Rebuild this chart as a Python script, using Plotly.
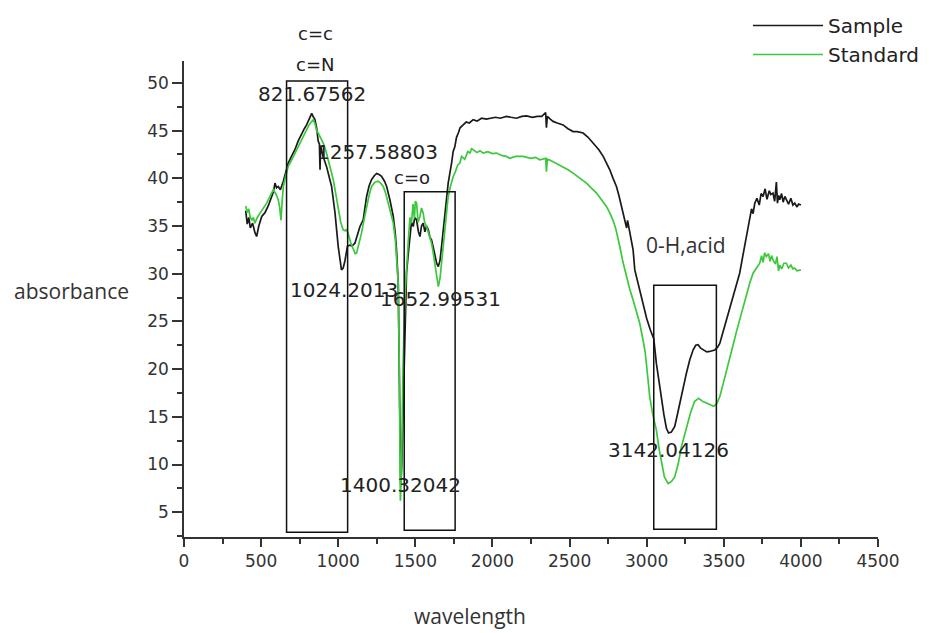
import plotly.graph_objects as go

# ---- data ----
sample_x = [400, 410, 420, 430, 445, 460, 471, 485, 504, 525, 546, 565, 580, 590, 600, 611, 625, 644, 660, 676,
            700, 719, 740, 763, 780, 795, 815, 828, 840, 849, 860, 870, 878, 882, 886, 900, 924, 957, 979, 1000,
            1021, 1032, 1043, 1060, 1076, 1090, 1108, 1125, 1141, 1162, 1184, 1200, 1216, 1235, 1249, 1265, 1281,
            1300, 1314, 1335, 1357, 1370, 1378, 1389, 1398, 1405, 1412, 1425, 1435, 1443, 1455, 1465, 1475, 1486,
            1497, 1508, 1520, 1530, 1540, 1551, 1562, 1573, 1584, 1595, 1605, 1620, 1638, 1649, 1660, 1670, 1680,
            1692, 1713, 1735, 1745, 1756, 1767, 1780, 1790, 1810, 1830, 1850, 1875, 1900, 1930, 1960, 1983, 2020,
            2050, 2091, 2120, 2156, 2190, 2221, 2260, 2290, 2320, 2345, 2350, 2356, 2375, 2393, 2420, 2458, 2490,
            2523, 2550, 2588, 2620, 2653, 2690, 2718, 2740, 2761, 2782, 2804, 2820, 2837, 2850, 2862, 2870, 2876,
            2890, 2905, 2912, 2923, 2944, 2960, 2977, 3000, 3024, 3046, 3063, 3080, 3096, 3112, 3128, 3142, 3160,
            3182, 3200, 3214, 3235, 3258, 3280, 3301, 3318, 3333, 3350, 3366, 3390, 3409, 3425, 3441, 3460, 3474,
            3490, 3506, 3530, 3560, 3580, 3603, 3625, 3647, 3658, 3668, 3680, 3690, 3701, 3715, 3730, 3742, 3755,
            3768, 3780, 3795, 3805, 3819, 3830, 3841, 3848, 3856, 3863, 3875, 3885, 3896, 3906, 3920, 3935, 3948,
            3960, 3975, 3985, 4000]
sample_y = [36.6, 35.2, 35.9, 34.8, 35.3, 34.3, 33.9, 35.0, 36.0, 36.4, 37.1, 38.0, 38.6, 39.5, 39.0, 39.15, 38.8,
            39.7, 40.8, 41.6, 42.4, 43.0, 43.9, 44.75, 45.2, 45.6, 46.3, 46.8, 46.4, 46.15, 45.3, 43.9, 43.6, 40.9,
            43.4, 42.4, 41.25, 39.15, 36.4, 32.85, 30.4, 30.6, 31.3, 32.9, 33.0, 32.9, 33.2, 34.0, 34.95, 35.65,
            38.1, 39.2, 39.85, 40.3, 40.5, 40.4, 40.2, 39.7, 39.15, 37.75, 36.0, 34.2, 32.5, 29.0, 18.0, 7.8, 10.0,
            20.0, 26.0, 30.1, 32.2, 33.9, 35.4, 34.95, 35.9, 35.65, 34.4, 33.9, 35.0, 35.3, 34.4, 35.0, 34.6, 33.8,
            33.55, 32.5, 31.1, 30.75, 31.4, 32.85, 34.5, 36.7, 39.5, 41.6, 42.8, 43.3, 44.3, 44.8, 45.3, 45.6, 45.9,
            45.8, 46.15, 46.0, 46.3, 46.2, 46.3, 46.4, 46.3, 46.5, 46.4, 46.3, 46.5, 46.55, 46.4, 46.5, 46.5, 46.9,
            45.3, 46.5, 46.2, 45.97, 45.8, 45.6, 45.2, 44.9, 44.9, 44.75, 44.3, 43.7, 43.0, 42.3, 41.6, 40.9, 40.0,
            39.15, 38.2, 37.05, 36.3, 35.65, 34.8, 35.6, 34.25, 33.0, 32.5, 30.4, 29.0, 27.8, 26.55, 25.3, 24.1,
            23.2, 20.6, 18.6, 17.1, 15.2, 13.8, 13.3, 13.4, 14.0, 15.3, 16.4, 18.1, 19.6, 21.0, 22.0, 22.5, 22.55,
            22.2, 22.0, 21.8, 21.85, 21.9, 22.0, 22.3, 22.7, 23.6, 24.5, 25.9, 27.6, 28.8, 30.05, 32.0, 33.9, 35.0,
            36.0, 36.8, 36.3, 37.4, 37.9, 37.2, 38.4, 38.1, 38.9, 37.8, 38.7, 38.3, 38.45, 37.6, 39.6, 37.4, 38.2,
            37.75, 38.4, 37.5, 38.1, 37.75, 37.3, 37.9, 37.2, 37.4, 37.0, 37.3, 37.2]

standard_x = [400, 410, 420, 428, 440, 450, 460, 475, 493, 515, 536, 560, 579, 595, 611, 620, 629, 636, 644, 660,
              676, 700, 719, 740, 763, 785, 806, 820, 839, 850, 860, 870, 885, 903, 920, 935, 950, 968, 985, 1000,
              1016, 1032, 1045, 1054, 1065, 1080, 1097, 1110, 1119, 1135, 1151, 1168, 1184, 1200, 1216, 1238, 1259,
              1275, 1292, 1308, 1324, 1340, 1357, 1370, 1378, 1390, 1396, 1403, 1410, 1420, 1432, 1443, 1455, 1465,
              1475, 1485, 1494, 1500, 1508, 1518, 1530, 1540, 1551, 1560, 1573, 1590, 1605, 1615, 1627, 1638, 1649,
              1660, 1670, 1682, 1692, 1703, 1713, 1730, 1746, 1760, 1775, 1789, 1800, 1820, 1840, 1854, 1865, 1875,
              1900, 1920, 1940, 1970, 2000, 2027, 2060, 2090, 2113, 2150, 2199, 2250, 2280, 2307, 2345, 2350, 2356,
              2375, 2393, 2420, 2458, 2490, 2523, 2560, 2590, 2610, 2640, 2675, 2700, 2720, 2739, 2760, 2782, 2800,
              2815, 2826, 2845, 2869, 2890, 2912, 2935, 2955, 2977, 2990, 3000, 3020, 3040, 3063, 3080, 3096, 3115,
              3139, 3160, 3182, 3205, 3225, 3255, 3284, 3310, 3337, 3365, 3392, 3415, 3435, 3455, 3474, 3495, 3517,
              3540, 3560, 3580, 3603, 3625, 3647, 3668, 3690, 3710, 3733, 3745, 3755, 3765, 3776, 3790, 3800, 3810,
              3819, 3835, 3845, 3855, 3863, 3875, 3890, 3906, 3920, 3935, 3948, 3960, 3975, 4000]
standard_y = [37.1, 36.4, 36.8, 36.0, 35.6, 35.9, 35.3, 35.9, 36.35, 36.9, 37.4, 38.2, 38.8, 38.4, 37.75, 37.0,
              35.6, 37.5, 39.15, 40.3, 41.25, 42.0, 42.65, 43.3, 44.05, 44.8, 45.45, 45.8, 46.15, 45.7, 45.0, 44.75,
              44.3, 43.7, 42.9, 41.95, 41.0, 39.85, 38.3, 36.7, 35.4, 34.6, 34.5, 34.6, 34.2, 33.3, 32.5, 32.1,
              32.15, 33.2, 34.25, 35.7, 37.05, 38.2, 39.15, 39.6, 39.7, 39.5, 39.15, 38.4, 37.4, 36.4, 35.3, 33.6,
              31.8, 28.8, 20.0, 6.2, 9.0, 20.0, 27.5, 31.1, 33.6, 35.9, 35.3, 37.3, 35.8, 37.6, 37.4, 35.4, 36.0,
              36.9, 36.35, 35.4, 34.95, 34.0, 33.2, 32.3, 31.1, 29.6, 28.65, 29.5, 31.1, 33.4, 35.3, 36.9, 38.1,
              39.3, 40.2, 40.7, 41.4, 41.6, 42.3, 42.0, 42.8, 42.65, 43.1, 43.0, 42.7, 42.9, 42.65, 42.8, 42.6,
              42.65, 42.4, 42.3, 42.1, 42.3, 42.3, 42.1, 42.2, 41.95, 42.1, 40.7, 42.0, 41.9, 41.75, 41.5, 41.25,
              40.9, 40.55, 40.1, 39.8, 39.5, 39.0, 38.45, 37.9, 37.5, 37.05, 36.4, 35.6, 34.7, 33.8, 32.85, 31.3,
              29.7, 28.4, 27.25, 26.0, 24.8, 23.0, 21.8, 20.3, 17.1, 15.2, 13.6, 11.7, 10.15, 8.7, 8.0, 8.2, 8.7,
              10.1, 11.85, 13.8, 15.4, 16.6, 16.95, 16.6, 16.4, 16.2, 16.1, 16.4, 17.1, 18.4, 19.9, 21.3, 22.5,
              23.8, 25.15, 26.6, 27.95, 29.0, 30.05, 30.6, 31.1, 31.9, 31.2, 32.2, 31.8, 32.1, 31.3, 31.9, 31.45,
              31.0, 31.8, 30.3, 30.9, 30.5, 31.1, 31.1, 30.6, 30.9, 30.5, 30.6, 30.3, 30.4]

# annotated regions (x0, x1, y0, y1) in data units
boxes_x0 = [665, 1428, 3046]
boxes_x1 = [1061, 1758, 3452]
boxes_y0 = [2.9, 3.1, 3.2]
boxes_y1 = [50.2, 38.6, 28.8]

peak_labels = ["821.67562", "1257.58803", "1024.2013", "1652.99531", "1400.32042", "3142.04126"]
peak_x = [828, 1254, 1037, 1666, 1406, 3140]
peak_y = [48.8, 42.8, 28.3, 27.3, 7.9, 11.5]

W, H = 929, 633
ML, MR, MT, MB = 184, 51, 61, 96
PW, PH = W - ML - MR, H - MT - MB


def px2paper(px, py):
    return (px - ML) / PW, (H - MB - py) / PH


BLACK = "#1a1a1a"
GREEN = "#3cc83c"
NUMFONT = dict(family="DejaVu Sans", size=20, color="#222")

fig = go.Figure()
fig.add_trace(go.Scatter(x=sample_x, y=sample_y, mode="lines", name="Sample",
                         line=dict(color=BLACK, width=1.7)))
fig.add_trace(go.Scatter(x=standard_x, y=standard_y, mode="lines", name="Standard",
                         line=dict(color=GREEN, width=1.7)))

for x0, x1, y0, y1 in zip(boxes_x0, boxes_x1, boxes_y0, boxes_y1):
    fig.add_shape(type="rect", xref="x", yref="y", x0=x0, x1=x1, y0=y0, y1=y1,
                  line=dict(color="#111", width=1.5), fillcolor="rgba(0,0,0,0)")

annotations = []
for t, x, y in zip(peak_labels, peak_x, peak_y):
    annotations.append(dict(text=t, x=x, y=y, xref="x", yref="y", showarrow=False,
                            font=NUMFONT, xanchor="center", yanchor="middle"))

small = dict(family="DejaVu Sans", size=18, color="#222")
for t, px, py in [("c=c", 315, 34), ("c=N", 315, 65), ("c=o", 412, 177)]:
    xp, yp = px2paper(px, py)
    annotations.append(dict(text=t, x=xp, y=yp, xref="paper", yref="paper", showarrow=False,
                            font=small, xanchor="center", yanchor="middle"))

opf = dict(family="Open Sans", size=21, color="#333")
for t, px, py in [("0-H,acid", 686, 245), ("absorbance", 71, 291), ("wavelength", 470, 616)]:
    xp, yp = px2paper(px, py)
    annotations.append(dict(text=t, x=xp, y=yp, xref="paper", yref="paper", showarrow=False,
                            font=opf, xanchor="center", yanchor="middle"))

axis_common = dict(showline=True, linecolor="#333", linewidth=1.5, ticks="outside",
                   tickwidth=1.5, tickcolor="#333", showgrid=False, zeroline=False,
                   tickfont=dict(family="DejaVu Sans", size=17, color="#333"))

fig.update_layout(
    width=W, height=H,
    margin=dict(l=ML, r=MR, t=MT, b=MB, pad=0, autoexpand=False),
    paper_bgcolor="white", plot_bgcolor="white",
    xaxis=dict(range=[0, 4500], tick0=0, dtick=500, ticklen=8,
               minor=dict(ticks="outside", dtick=250, ticklen=5, tickwidth=1.5, tickcolor="#333"),
               **axis_common),
    yaxis=dict(range=[2.4, 52.3], tick0=0, dtick=5, ticklen=10,
               minor=dict(ticks="outside", dtick=2.5, ticklen=5, tickwidth=1.5, tickcolor="#333"),
               **axis_common),
    showlegend=True,
    legend=dict(x=px2paper(748, 0)[0], y=px2paper(0, 6)[1], xanchor="left", yanchor="top",
                xref="paper", yref="paper", itemwidth=70, tracegroupgap=0,
                bgcolor="rgba(0,0,0,0)",
                font=dict(family="DejaVu Sans", size=20, color="#222")),
    annotations=annotations,
)

fig.write_html("out.html")
